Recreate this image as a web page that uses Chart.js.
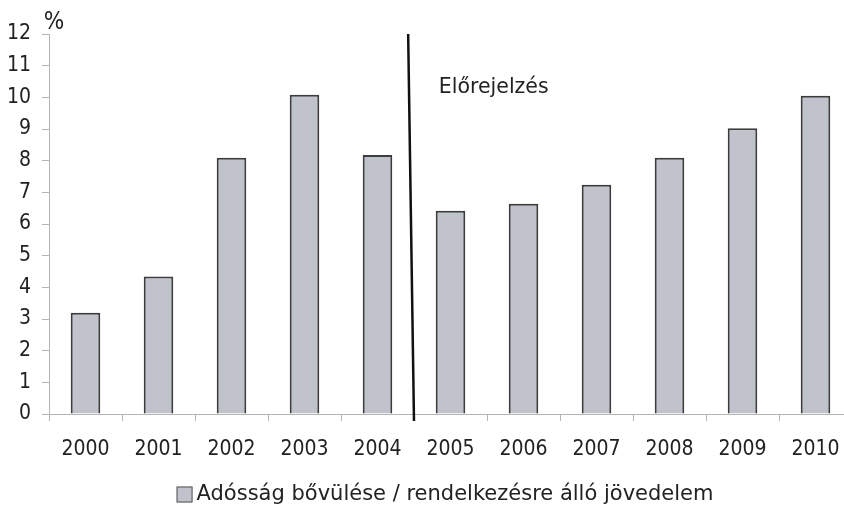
<!DOCTYPE html>
<html>
<head>
<meta charset="utf-8">
<script src="https://cdn.jsdelivr.net/npm/chart.js@4.4.1/dist/chart.umd.min.js"></script>
<style>
  html, body { margin: 0; padding: 0; background: #fff; overflow: hidden; width: 844px; height: 506px; }
  #wrap { position: relative; width: 860px; height: 506px; }
</style>
</head>
<body>
<div id="wrap"><canvas id="c" width="860" height="506"></canvas></div>
<script>
const categories = ['2000','2001','2002','2003','2004','2005','2006','2007','2008','2009','2010'];
const debtGrowth = [3.2, 4.34, 8.09, 10.08, 8.18, 6.42, 6.64, 7.24, 8.09, 9.02, 10.05];
const seriesLabel = 'Adósság bővülése / rendelkezésre álló jövedelem';
const yTicks = [0,1,2,3,4,5,6,7,8,9,10,11,12];
const forecastLabel = 'Előrejelzés';
const unitLabel = '%';

const FONT = "'DejaVu Sans Condensed', 'DejaVu Sans', sans-serif";
const TFONT = "'DejaVu Sans', sans-serif";
const TXT = '#222';
const AXIS = '#b4b4b4';

const extras = {
  id: 'extras',
  afterDatasetsDraw(chart) {
    const ctx = chart.ctx;
    const x = chart.scales.x, y = chart.scales.y;
    ctx.save();
    // forecast divider line
    ctx.strokeStyle = '#111';
    ctx.lineWidth = 2.5;
    ctx.beginPath();
    ctx.moveTo(x.getPixelForValue(4.42), y.getPixelForValue(12));
    ctx.lineTo(x.getPixelForValue(4.5), y.getPixelForValue(-0.22));
    ctx.stroke();
    // forecast text
    ctx.fillStyle = TXT;
    ctx.font = '20.5px ' + TFONT;
    ctx.textAlign = 'left';
    ctx.textBaseline = 'middle';
    ctx.fillText(forecastLabel, x.getPixelForValue(4.84), y.getPixelForValue(10.3));
    // unit label
    ctx.font = '24px ' + FONT;
    ctx.textAlign = 'center';
    ctx.fillText(unitLabel, y.right + 5, y.top - 11);
    // legend
    const ds = chart.data.datasets[0];
    ctx.font = '21px ' + TFONT;
    const tw = ctx.measureText(ds.label).width;
    const box = 16, gap = 4;
    const total = box + gap + tw;
    const cx = 445, cy = 494.5;
    const lx = cx - total / 2;
    ctx.fillStyle = ds.backgroundColor;
    ctx.fillRect(lx, cy - box / 2, box, box);
    ctx.strokeStyle = '#555';
    ctx.lineWidth = 1;
    ctx.strokeRect(lx + 0.5, cy - box / 2 + 0.5, box - 1, box - 1);
    ctx.fillStyle = TXT;
    ctx.textAlign = 'left';
    ctx.fillText(ds.label, lx + box + gap, cy);
    ctx.restore();
  }
};

new Chart(document.getElementById('c'), {
  type: 'bar',
  data: {
    labels: categories,
    datasets: [{
      label: seriesLabel,
      data: debtGrowth,
      backgroundColor: '#c0c3cc',
      borderColor: '#3c3c3c',
      borderWidth: 2,
      borderSkipped: 'bottom',
      barPercentage: 0.405,
      categoryPercentage: 1
    }]
  },
  options: {
    responsive: false,
    animation: false,
    events: [],
    layout: { padding: { top: 34, right: 8, bottom: 27, left: 0 } },
    plugins: { legend: { display: false }, tooltip: { enabled: false } },
    scales: {
      x: {
        grid: { display: true, drawOnChartArea: false, drawTicks: true, tickLength: 7, color: AXIS, offset: true },
        border: { display: true, color: AXIS, width: 1 },
        ticks: { color: TXT, font: { family: FONT, size: 21 }, padding: 16, maxRotation: 0, autoSkip: false },
        afterFit(s) { s.height = 65; }
      },
      y: {
        min: 0, max: 12,
        afterBuildTicks(s) { s.ticks = yTicks.map(v => ({ value: v })); },
        grid: { display: true, drawOnChartArea: false, drawTicks: true, tickLength: 7, color: AXIS },
        border: { display: true, color: AXIS, width: 1 },
        ticks: { color: TXT, font: { family: FONT, size: 21 }, padding: 11 },
        afterFit(s) { s.width = 49; }
      }
    }
  },
  plugins: [extras]
});
</script>
</body>
</html>
